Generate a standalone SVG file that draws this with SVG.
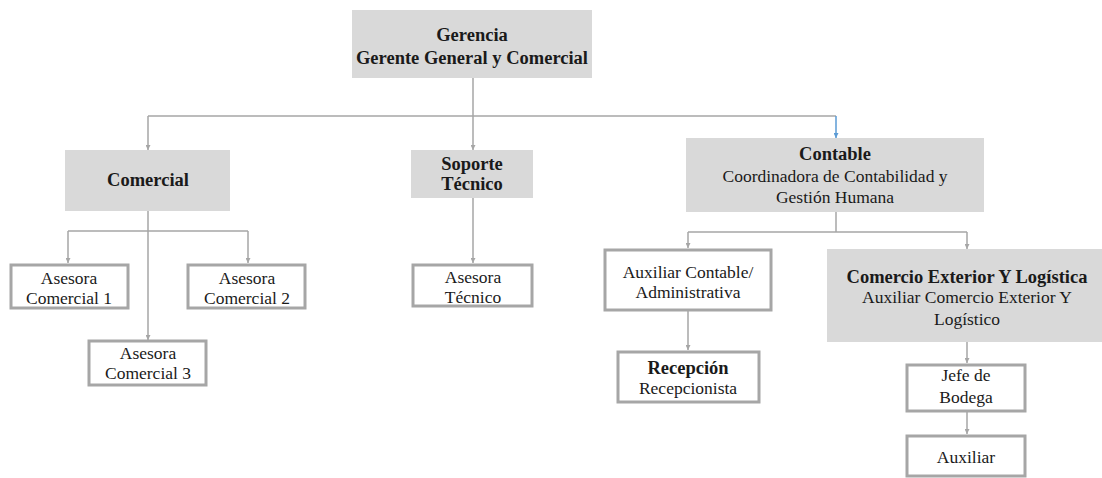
<svg xmlns="http://www.w3.org/2000/svg" width="1102" height="478" viewBox="0 0 1102 478">
<defs>
<marker id="ah" viewBox="0 0 10 10" refX="10" refY="5" markerWidth="5" markerHeight="5" orient="auto" markerUnits="userSpaceOnUse">
<path d="M0,0 L10,5 L0,10 z" fill="#a6a6a6"/>
</marker>
<marker id="ahb" viewBox="0 0 10 10" refX="10" refY="5" markerWidth="5" markerHeight="5" orient="auto" markerUnits="userSpaceOnUse">
<path d="M0,0 L10,5 L0,10 z" fill="#5b9bd5"/>
</marker>
<style>
.g{fill:#d9d9d9;stroke:none}
.w{fill:#fff;stroke:#a6a6a6;stroke-width:3}
text{font-family:'Liberation Serif','DejaVu Serif',serif;font-size:17.5px;fill:#1a1a1a;text-anchor:middle}
text.b{font-weight:bold;font-size:18.5px}
.c{fill:none;stroke:#a6a6a6;stroke-width:1.5}
.ca{fill:none;stroke:#a6a6a6;stroke-width:1.5;marker-end:url(#ah)}
.cb{fill:none;stroke:#5b9bd5;stroke-width:1.5;marker-end:url(#ahb)}
</style>
</defs>
<rect width="1102" height="478" fill="#fff"/>
<g id="connectors">
<path class="c" d="M473,78 V116 M148,116 H836"/>
<path class="ca" d="M148,116 V150"/>
<path class="ca" d="M473,116 V150"/>
<path class="cb" d="M836,116 V138"/>
<path class="ca" d="M148,211 V340"/>
<path class="c" d="M68,231 H248"/>
<path class="ca" d="M68,231 V263"/>
<path class="ca" d="M248,231 V263"/>
<path class="ca" d="M473,198 V263"/>
<path class="c" d="M836,212 V232 M688,232 H967"/>
<path class="ca" d="M688,232 V248"/>
<path class="ca" d="M967,232 V249"/>
<path class="ca" d="M688,311 V350"/>
<path class="ca" d="M967,342 V363"/>
<path class="ca" d="M967,412 V434"/>
</g>
<g id="nodes" font-family="Liberation Serif, DejaVu Serif, serif">
<g id="gerencia">
<rect class="g" x="352" y="10" width="240" height="68"/>
<text class="b" x="472" y="41">Gerencia</text>
<text class="b" x="472" y="64">Gerente General y Comercial</text>
</g>
<g id="comercial">
<rect class="g" x="65" y="150" width="165" height="61"/>
<text class="b" x="148" y="186">Comercial</text>
</g>
<g id="soporte">
<rect class="g" x="411" y="150" width="122" height="48"/>
<text class="b" x="472" y="170">Soporte</text>
<text class="b" x="472" y="190">Técnico</text>
</g>
<g id="contable">
<rect class="g" x="686" y="138" width="298" height="74"/>
<text class="b" x="835" y="160">Contable</text>
<text x="835" y="182">Coordinadora de Contabilidad y</text>
<text x="835" y="203">Gestión Humana</text>
</g>
<g id="asesora1">
<rect class="w" x="11" y="265" width="117" height="43"/>
<text x="69" y="284">Asesora</text>
<text x="69" y="304">Comercial 1</text>
</g>
<g id="asesora2">
<rect class="w" x="188" y="265" width="117" height="43"/>
<text x="247" y="284">Asesora</text>
<text x="247" y="304">Comercial 2</text>
</g>
<g id="asesora3">
<rect class="w" x="89" y="341" width="117" height="44"/>
<text x="148" y="359">Asesora</text>
<text x="148" y="379">Comercial 3</text>
</g>
<g id="asesoratecnico">
<rect class="w" x="413" y="265" width="119" height="41"/>
<text x="473" y="283">Asesora</text>
<text x="473" y="303">Técnico</text>
</g>
<g id="auxcontable">
<rect class="w" x="605" y="250" width="166" height="60"/>
<text x="688" y="278">Auxiliar Contable/</text>
<text x="688" y="298">Administrativa</text>
</g>
<g id="recepcion">
<rect class="w" x="618" y="352" width="141" height="50"/>
<text class="b" x="688" y="374">Recepción</text>
<text x="688" y="394">Recepcionista</text>
</g>
<g id="comercio">
<rect class="g" x="827" y="249" width="275" height="93"/>
<text class="b" x="967" y="283">Comercio Exterior Y Logística</text>
<text x="967" y="303">Auxiliar Comercio Exterior Y</text>
<text x="967" y="325">Logístico</text>
</g>
<g id="jefe">
<rect class="w" x="907" y="365" width="118" height="46"/>
<text x="966" y="381">Jefe de</text>
<text x="966" y="403">Bodega</text>
</g>
<g id="auxiliar">
<rect class="w" x="907" y="436" width="118" height="40"/>
<text x="966" y="463">Auxiliar</text>
</g>
</g>
</svg>
